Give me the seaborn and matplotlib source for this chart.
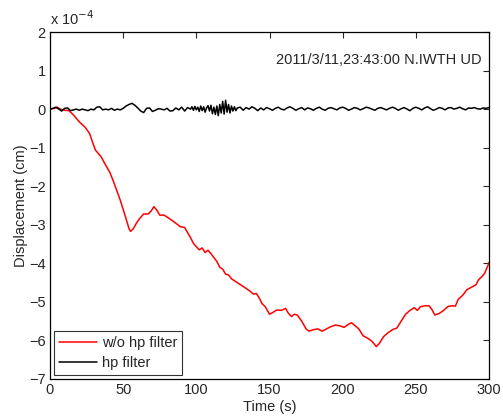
import numpy as np
import pandas as pd
import matplotlib
matplotlib.use("Agg")
import matplotlib.pyplot as plt
import seaborn as sns

# Displacement in units of 1e-4 cm
red_t = [0, 3, 5, 7, 10, 13, 16, 20, 24, 27, 29, 31, 33, 35, 38, 41, 43, 46, 48, 50,
         52, 54, 55, 57, 59, 61, 64, 67, 69, 71, 73, 75, 78, 82, 86, 89, 92, 94, 96, 98,
         100, 102, 104, 106, 108, 110, 112, 114, 116, 118, 120, 122, 124, 126, 128, 130,
         132, 134, 137, 139, 141, 143, 145, 147, 150, 152, 155, 158, 161, 163, 165, 167,
         169, 172, 175, 177, 180, 183, 186, 189, 192, 195, 198, 201, 204, 206, 208, 211,
         214, 217, 220, 223, 225, 228, 231, 234, 237, 240, 243, 246, 249, 251, 253, 256,
         259, 261, 263, 266, 269, 272, 275, 277, 279, 282, 285, 288, 291, 293, 295, 297,
         299, 300]
red_y = [0, 0.02, 0.05, 0.0, -0.03, -0.04, -0.15, -0.33, -0.47, -0.63, -0.85, -1.06,
         -1.15, -1.24, -1.45, -1.65, -1.84, -2.15, -2.36, -2.6, -2.85, -3.1, -3.17, -3.1,
         -2.96, -2.85, -2.72, -2.72, -2.65, -2.53, -2.62, -2.75, -2.75, -2.85, -2.96,
         -3.05, -3.07, -3.2, -3.33, -3.48, -3.57, -3.65, -3.6, -3.72, -3.66, -3.75, -3.85,
         -3.95, -4.1, -4.15, -4.28, -4.3, -4.4, -4.45, -4.5, -4.55, -4.6, -4.65, -4.73,
         -4.8, -4.78, -4.9, -5.05, -5.12, -5.32, -5.28, -5.21, -5.22, -5.17, -5.3, -5.38,
         -5.32, -5.34, -5.5, -5.7, -5.76, -5.72, -5.7, -5.76, -5.7, -5.64, -5.6, -5.62,
         -5.66, -5.58, -5.54, -5.6, -5.7, -5.88, -5.94, -6.02, -6.16, -6.08, -5.9, -5.8,
         -5.72, -5.68, -5.5, -5.32, -5.22, -5.15, -5.22, -5.13, -5.1, -5.1, -5.2, -5.34,
         -5.3, -5.22, -5.12, -5.1, -5.11, -4.93, -4.83, -4.68, -4.62, -4.56, -4.42, -4.35,
         -4.26, -4.08, -3.98]

blk_t = ([0, 2, 4, 6, 8, 10, 12, 14, 16, 18, 20, 22, 24, 26, 28, 30, 32, 34, 36, 38,
          40, 42, 44, 46, 48, 50, 52, 54, 56, 58, 60, 62, 64, 66, 68, 70, 72, 74, 76, 78,
          80, 82, 84, 86, 88, 90, 92, 94, 96]
         + [97, 98, 99, 100, 101, 102, 103, 104, 105, 106, 107, 108, 109, 110, 111, 112,
            113, 114, 115, 116, 117, 118, 119, 120, 121, 122, 123, 124, 125, 126, 127, 128]
         + [130, 132, 134, 136, 138, 140, 142, 144, 146, 148, 150, 152, 154, 156, 158,
            160, 162, 164, 166, 168, 170, 172, 174, 176, 178, 180, 182, 184, 186, 188,
            190, 192, 194, 196, 198, 200, 202, 204, 206, 208, 210, 212, 214, 216, 218,
            220, 222, 224, 226, 228, 230, 232, 234, 236, 238, 240, 242, 244, 246, 248,
            250, 252, 254, 256, 258, 260, 262, 264, 266, 268, 270, 272, 274, 276, 278,
            280, 282, 284, 286, 288, 290, 292, 294, 296, 298, 300])
blk_y = ([0, 0.02, 0.05, 0.0, -0.05, 0.02, 0.03, -0.04, -0.02, 0.0, -0.03, 0.0, -0.02,
          -0.04, 0.0, -0.02, 0.05, 0.06, -0.02, 0.0, -0.02, 0.02, -0.03, 0.0, -0.02, 0.02,
          0.08, 0.12, 0.15, 0.10, 0.03, -0.05, -0.09, 0.02, 0.03, -0.06, -0.03, 0.01, 0.0,
          -0.02, 0.02, -0.05, -0.04, 0.03, -0.02, 0.05, -0.05, 0.04, 0.0]
         + [0.06, -0.03, 0.07, -0.02, 0.05, -0.06, 0.08, -0.04, 0.06, -0.08, 0.03, 0.09,
            -0.05, 0.1, -0.12, 0.05, -0.14, 0.08, -0.17, 0.12, -0.1, 0.2, -0.13, 0.23,
            -0.08, 0.12, -0.1, 0.08, -0.05, 0.06, -0.04, 0.03]
         + [0.05, -0.03, 0.04, 0.0, 0.06, 0.02, -0.04, 0.03, -0.02, 0.04, 0.01, -0.03,
            0.02, 0.05, 0.0, -0.02, 0.03, 0.06, 0.02, -0.03, 0.01, 0.04, -0.02, 0.03, 0.01,
            -0.03, 0.02, 0.05, 0.0, -0.03, 0.02, 0.04, 0.01, -0.02, 0.03, 0.05, 0.02,
            -0.03, 0.0, 0.04, 0.02, -0.02, 0.01, 0.05, 0.03, 0.0, -0.03, 0.02, 0.04, 0.01,
            -0.02, 0.02, 0.05, 0.02, -0.03, 0.01, 0.04, 0.0, -0.04, 0.02, 0.05, 0.02,
            -0.02, 0.03, 0.06, 0.01, -0.03, 0.0, 0.04, 0.02, -0.02, 0.03, 0.04, 0.0, 0.02,
            0.05, 0.01, -0.02, 0.03, 0.02, 0.04, 0.01, 0.0, 0.03, 0.02, 0.04])

x_ticks = [0, 50, 100, 150, 200, 250, 300]
y_ticks = [-7, -6, -5, -4, -3, -2, -1, 0, 1, 2]

sns.set_style("white")
plt.rcParams['font.family'] = ['Liberation Sans', 'DejaVu Sans']
plt.rcParams['font.size'] = 10.5

df = pd.concat([
    pd.DataFrame({"t": red_t, "d": red_y, "s": "w/o hp filter"}),
    pd.DataFrame({"t": blk_t, "d": blk_y, "s": "hp filter"}),
])

fig = plt.figure(figsize=(5.03, 4.18), dpi=100)
ax = fig.add_axes([50/503, 39/418, 439/503, 347/418])
sns.lineplot(data=df, x="t", y="d", hue="s", palette={"w/o hp filter": "#ff0000", "hp filter": "black"},
             ax=ax, linewidth=1.1, estimator=None, sort=False)

ax.set_xlim(0, 300)
ax.set_ylim(-7, 2)
ax.set_xticks(x_ticks)
ax.set_yticks(y_ticks)
ax.tick_params(direction="in", top=True, right=True, length=4, width=0.8, labelsize=10.5, pad=3)
for sp in ax.spines.values():
    sp.set_linewidth(0.9)
    sp.set_color("black")
ax.set_xlabel("Time (s)", labelpad=2)
ax.set_ylabel("Displacement (cm)", labelpad=1)
ax.text(0.0, 1.012, "x 10$^{-4}$", transform=ax.transAxes, ha="left", va="bottom", fontsize=10.5)
ax.text(0.983, 0.92, "2011/3/11,23:43:00 N.IWTH UD", transform=ax.transAxes, ha="right",
        va="center", fontsize=10.5)
leg = ax.legend(loc="lower left", frameon=True, fancybox=False, fontsize=10.5,
                handlelength=2.6, borderpad=0.35, labelspacing=0.45, handletextpad=0.35,
                borderaxespad=0.25)
leg.get_frame().set_edgecolor("black")
leg.get_frame().set_linewidth(0.8)

fig.savefig("out.png", dpi=100)
